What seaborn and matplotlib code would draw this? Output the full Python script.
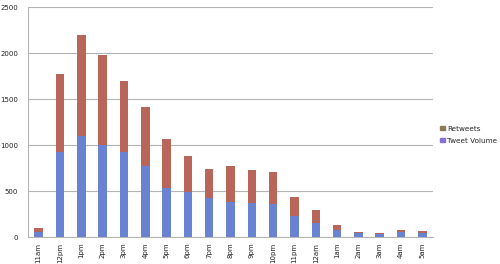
import matplotlib
matplotlib.use("Agg")
import matplotlib.pyplot as plt
import seaborn as sns
import pandas as pd
import numpy as np
from matplotlib.patches import Patch

hours = ["11am", "12pm", "1pm", "2pm", "3pm", "4pm", "5pm", "6pm", "7pm", "8pm",
         "9pm", "10pm", "11pm", "12am", "1am", "2am", "3am", "4am", "5am"]
tweet_volume = [60, 920, 1100, 1000, 930, 775, 535, 490, 420, 385,
                370, 355, 225, 150, 75, 40, 35, 50, 45]
retweets = [40, 855, 1100, 975, 770, 640, 530, 395, 320, 390,
            355, 350, 210, 140, 60, 12, 12, 22, 25]

df = pd.DataFrame({"hour": hours, "tweet_volume": tweet_volume, "retweets": retweets})
df["total"] = df["tweet_volume"] + df["retweets"]

sns.set_style("white")
plt.rcParams['font.family'] = ['DejaVu Sans']

c_rt = "#b8665a"
c_tv = "#6a82d2"

fig = plt.figure(figsize=(5, 2.64), dpi=100)
ax = fig.add_axes([0.056, 0.102, 0.81, 0.871])

sns.barplot(data=df, x="hour", y="total", color=c_rt, width=0.4, linewidth=0,
            saturation=1, ax=ax, zorder=3)
sns.barplot(data=df, x="hour", y="tweet_volume", color=c_tv, width=0.4, linewidth=0,
            saturation=1, ax=ax, zorder=3)

ax.set_ylim(0, 2500)
ax.set_xlim(-0.5, len(hours) - 0.5)
ax.set_yticks([0, 500, 1000, 1500, 2000, 2500])
ax.yaxis.grid(True, color="#b5b5b5", linewidth=0.8, zorder=0)
ax.set_axisbelow(True)
ax.set_xlabel("")
ax.set_ylabel("")

for s in ["top", "right"]:
    ax.spines[s].set_visible(False)
ax.spines["left"].set_color("#b5b5b5")
ax.spines["bottom"].set_color("#b5b5b5")
ax.spines["left"].set_linewidth(0.8)
ax.spines["bottom"].set_linewidth(0.8)

ax.tick_params(axis="y", length=0, labelsize=5, pad=7, labelcolor="#222222")
ax.tick_params(axis="x", which="major", length=0, labelsize=5, pad=4, labelrotation=90,
               labelcolor="#222222")
ax.set_xticks(np.arange(-0.5, len(hours)), minor=True)
ax.tick_params(axis="x", which="minor", length=2.5, color="#b5b5b5", width=0.8)

handles = [Patch(color="#8a7a58", label="Retweets"),
           Patch(color="#8570d8", label="Tweet Volume")]
fig.legend(handles=handles, loc="center left", bbox_to_anchor=(0.872, 0.49),
           frameon=False, fontsize=5.2, handlelength=0.6, handleheight=0.6,
           handletextpad=0.3, labelspacing=0.8, borderaxespad=0.2)

fig.savefig("out.png", dpi=100)
